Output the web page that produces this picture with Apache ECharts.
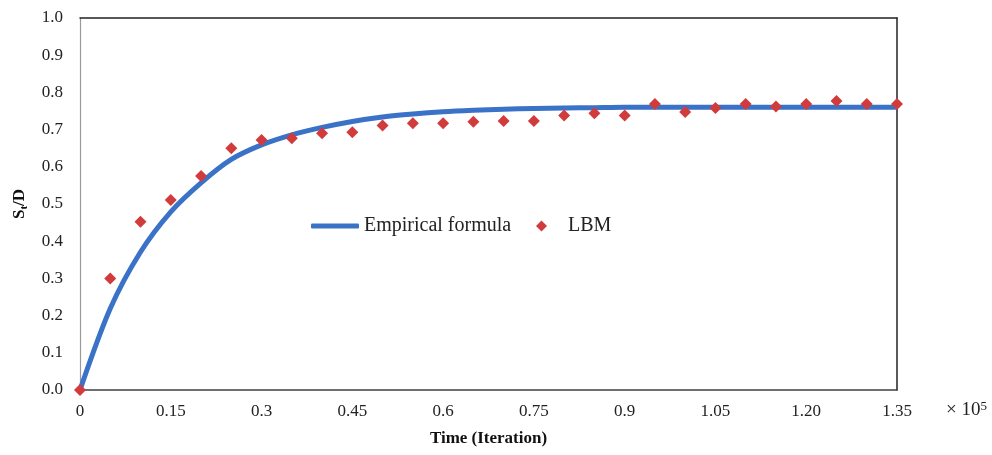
<!DOCTYPE html>
<html>
<head>
<meta charset="utf-8">
<script src="https://cdn.jsdelivr.net/npm/echarts@6/dist/echarts.min.js"></script>
<style>
  html, body { margin: 0; padding: 0; background: #fff; }
  #chart { width: 992px; height: 455px; }
</style>
</head>
<body>
<div id="chart"></div>
<script>
// Time in units of 1e5 iterations
const timeIter = [0, 0.05, 0.10, 0.15, 0.20, 0.25, 0.30, 0.35, 0.40, 0.45, 0.50, 0.55, 0.60, 0.65,
                  0.70, 0.75, 0.80, 0.85, 0.90, 0.95, 1.00, 1.05, 1.10, 1.15, 1.20, 1.25, 1.30, 1.35];
// Empirical formula curve, St/D
const empirical = [0, 0.219, 0.371, 0.479, 0.557, 0.620, 0.659, 0.686, 0.706, 0.722, 0.734, 0.742,
                   0.748, 0.752, 0.755, 0.757, 0.758, 0.759, 0.760, 0.760, 0.760, 0.760, 0.760,
                   0.760, 0.760, 0.760, 0.760, 0.760];
// LBM simulation results, St/D
const lbm = [0, 0.300, 0.452, 0.511, 0.575, 0.650, 0.672, 0.677, 0.690, 0.693, 0.711, 0.717,
             0.717, 0.721, 0.723, 0.723, 0.738, 0.744, 0.738, 0.769, 0.747, 0.758, 0.769,
             0.762, 0.769, 0.777, 0.769, 0.769];
const xTickLabels = ['0', '0.15', '0.3', '0.45', '0.6', '0.75', '0.9', '1.05', '1.20', '1.35'];
const yTickLabels = ['0.0', '0.1', '0.2', '0.3', '0.4', '0.5', '0.6', '0.7', '0.8', '0.9', '1.0'];

const FONT = '"Liberation Serif", "Times New Roman", serif';
const BLUE = '#3a72c8';
const RED = '#d23b3b';

const chart = echarts.init(document.getElementById('chart'), null, { renderer: 'canvas' });

const legendText = { fontFamily: FONT, fontSize: 20, color: '#222' };

chart.setOption({
  backgroundColor: '#ffffff',
  animation: false,
  grid: { left: 80, right: 95, top: 18, bottom: 65, containLabel: false },
  legend: [{
    // line entry
    left: 311, top: 216, padding: 0,
    itemWidth: 48, itemHeight: 5,
    textStyle: legendText,
    data: [{ name: 'Empirical formula', icon: 'roundRect' }]
  }, {
    // marker entry
    left: 536, top: 216, padding: 0,
    itemWidth: 11, itemHeight: 11,
    textStyle: Object.assign({ padding: [0, 0, 0, 16] }, legendText),
    data: [{ name: 'LBM', icon: 'diamond' }]
  }],
  xAxis: [{
    type: 'value', min: 0, max: 1.35, interval: 0.15,
    name: 'Time (Iteration)', nameLocation: 'middle', nameGap: 40,
    nameTextStyle: { fontFamily: FONT, fontSize: 17, fontWeight: 'bold', color: '#111' },
    axisLine: { show: true, onZero: false, lineStyle: { color: '#404040', width: 1.5 } },
    axisTick: { show: false },
    splitLine: { show: false },
    axisLabel: {
      margin: 13, fontFamily: FONT, fontSize: 17, color: '#222',
      formatter: v => xTickLabels[Math.round(v / 0.15)]
    }
  }, {
    type: 'value', min: 0, max: 1.35, position: 'top',
    axisLine: { show: true, onZero: false, lineStyle: { color: '#222', width: 1.5 } },
    axisTick: { show: false }, axisLabel: { show: false }, splitLine: { show: false }
  }],
  yAxis: [{
    type: 'value', min: 0, max: 1, interval: 0.1,
    name: '{a|S}{b|t}{a|/D}', nameLocation: 'middle', nameGap: 50, nameRotate: 90,
    nameTextStyle: {
      rich: {
        a: { fontFamily: FONT, fontSize: 17, fontWeight: 'bold', color: '#111', lineHeight: 20 },
        b: { fontFamily: FONT, fontSize: 11, fontWeight: 'bold', color: '#111', verticalAlign: 'bottom', lineHeight: 14 }
      }
    },
    axisLine: { show: true, onZero: false, lineStyle: { color: '#9a9a9a', width: 1.2 } },
    axisTick: { show: false },
    splitLine: { show: false },
    axisLabel: {
      margin: 17, fontFamily: FONT, fontSize: 17, color: '#222',
      formatter: v => yTickLabels[Math.round(v * 10)]
    }
  }, {
    type: 'value', min: 0, max: 1, position: 'right',
    axisLine: { show: true, onZero: false, lineStyle: { color: '#222', width: 1.5 } },
    axisTick: { show: false }, axisLabel: { show: false }, splitLine: { show: false }
  }],
  graphic: [{
    type: 'text', left: 946, top: 400,
    style: {
      text: '× 10{s|5}', fill: '#222',
      font: '19px ' + FONT,
      rich: { s: { fontFamily: FONT, fontSize: 13, verticalAlign: 'top', padding: [0, 0, 8, 0] } }
    }
  }],
  series: [{
    name: 'Empirical formula', type: 'line',
    data: timeIter.map((t, i) => [t, empirical[i]]),
    showSymbol: false, smooth: 0.3,
    lineStyle: { color: BLUE, width: 5 },
    itemStyle: { color: BLUE },
    z: 2
  }, {
    name: 'LBM', type: 'scatter',
    data: timeIter.map((t, i) => [t, lbm[i]]),
    symbol: 'diamond', symbolSize: 12,
    itemStyle: { color: RED, opacity: 1 },
    z: 3
  }]
});
</script>
</body>
</html>
